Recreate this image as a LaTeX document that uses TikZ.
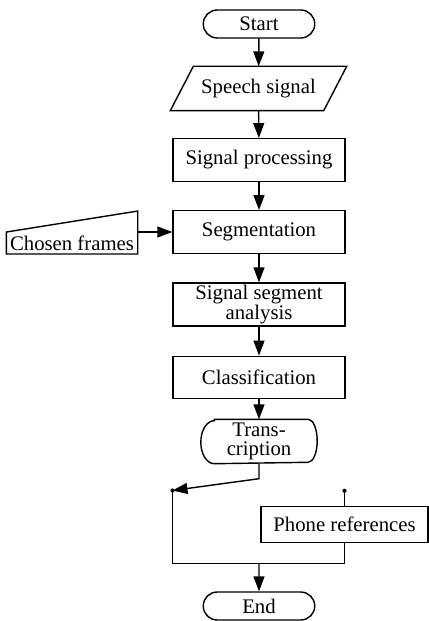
\documentclass[tikz,border=0pt]{standalone}
\usepackage{fontspec}
\setmainfont{Liberation Serif}
\usetikzlibrary{arrows.meta,shapes.misc}

\begin{document}
\begin{tikzpicture}[
    line width=0.8pt, >={Triangle[length=0.3cm,width=0.22cm]},
    every node/.style={font=\fontsize{11.8}{10.6}\selectfont, inner sep=1pt, align=center},
    box/.style={draw, minimum width=3.44cm, minimum height=0.85cm},
    term/.style={draw, rounded rectangle, minimum width=2.3cm, minimum height=0.56cm},
    plain/.style={minimum height=0.86cm}
]
\useasboundingbox (0,0) rectangle (8.58,-12.42);

\node[term] (start) at (5.18,-0.48) {Start};
\node[plain, minimum width=3.04cm] (speech) at (5.17,-1.77) {Speech signal};
\node[box] (sigproc) at (5.18,-3.2) {Signal processing};
\node[box] (seg) at (5.18,-4.64) {Segmentation};
\node[box] (ssa) at (5.18,-6.09) {Signal segment\\analysis};
\node[box] (class) at (5.18,-7.55) {Classification};
\node[plain, minimum width=2.3cm] (trans) at (5.18,-8.83) {Trans-\\cription};
\node[minimum width=2.6cm, minimum height=0.41cm, inner sep=0.5pt] (chosen) at (1.44,-4.86) {Chosen frames};
\node[box, minimum width=3.34cm, minimum height=0.72cm] (phone) at (6.89,-10.49) {Phone references};
\node[term] (end) at (5.18,-12.12) {End};

% outlines of the special shapes
\draw ([xshift=-0.23cm]speech.south west) -- ([xshift=0.23cm]speech.north west)
    -- ([xshift=0.23cm]speech.north east) -- ([xshift=-0.23cm]speech.south east) -- cycle;
\draw (chosen.south west) -- (chosen.north west) -- ([yshift=0.42cm]chosen.north east)
    -- (chosen.south east) -- cycle;
\draw ([xshift=0.27cm]trans.north west) -- ([xshift=-0.18cm]trans.north east)
    arc[start angle=90, end angle=-90, x radius=0.18cm, y radius=0.43cm]
    -- ([xshift=0.27cm]trans.south west)
    arc[start angle=270, end angle=90, x radius=0.27cm, y radius=0.43cm] -- cycle;

\coordinate (bend) at ([yshift=-0.3cm]trans.south);
\coordinate (jl) at (3.45,-9.81);
\coordinate (jr) at ([yshift=0.3cm]phone.north);
\coordinate (merge) at (5.18,-11.27);

\draw[->] (start) -- (speech);
\draw[->] (speech) -- (sigproc);
\draw[->] (sigproc) -- (seg);
\draw[->] (seg) -- (ssa);
\draw[->] (ssa) -- (class);
\draw[->] (class) -- (trans);
\draw[->] (seg.west -| chosen.east) -- (seg.west);

\draw[->] (trans.south) -- (bend) -- (jl);
\draw (jl) |- (merge) -| (phone.south);
\draw (phone.north) -- (jr);
\draw[->] (merge) -- (end);
\fill (jl) circle (1.2pt);
\fill (jr) circle (1.2pt);

\end{tikzpicture}
\end{document}
